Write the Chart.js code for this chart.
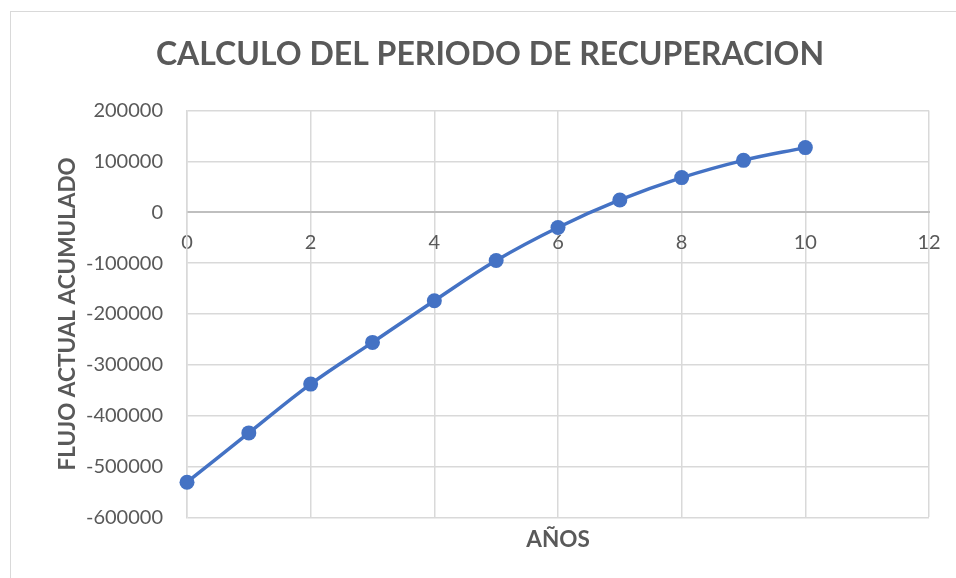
<!DOCTYPE html>
<html>
<head>
<meta charset="utf-8">
<script src="https://cdn.jsdelivr.net/npm/chart.js@4/dist/chart.umd.min.js"></script>
<style>
  html, body { margin: 0; padding: 0; background: #ffffff; }
  #wrap { position: relative; width: 956px; height: 578px; overflow: hidden; }
  #frame { position: absolute; left: 10px; top: 11px; width: 1000px; height: 1000px;
           border-left: 1.5px solid #d9d9d9; border-top: 1.5px solid #d9d9d9; box-sizing: border-box; }
  canvas { position: absolute; left: 0; top: 0; }
</style>
</head>
<body>
<div id="wrap">
  <div id="frame"></div>
  <canvas id="c" width="956" height="578"></canvas>
</div>
<script>
// ---- data ----
const titleText = 'CALCULO DEL PERIODO DE RECUPERACION';
const xTitle = 'AÑOS';
const yTitle = 'FLUJO ACTUAL ACUMULADO';
const years = [0, 1, 2, 3, 4, 5, 6, 7, 8, 9, 10];
const flujoAcumulado = [-531000, -434000, -338000, -256000, -174000, -95000, -30000, 24000, 68000, 102000, 127000];
const xTicks = [0, 2, 4, 6, 8, 10, 12];
const yTicks = [200000, 100000, 0, -100000, -200000, -300000, -400000, -500000, -600000];

const points = years.map((x, i) => ({ x: x, y: flujoAcumulado[i] }));
const FONT = 'Lato';
const GRAY = '#595959';
const GRID = '#d9d9d9';

new Chart(document.getElementById('c'), {
  type: 'line',
  data: {
    datasets: [{
      data: points,
      borderColor: '#4472C4',
      backgroundColor: '#4472C4',
      borderWidth: 3.5,
      pointRadius: 7.5,
      pointHoverRadius: 7.5,
      pointBorderWidth: 0,
      pointBackgroundColor: '#4472C4',
      tension: 0.4,
      clip: false,
      xAxisID: 'x',
      yAxisID: 'y'
    }]
  },
  options: {
    responsive: false,
    animation: false,
    events: [],
    layout: { padding: { left: 24, right: 0, top: 0, bottom: 0 } },
    plugins: {
      legend: { display: false },
      tooltip: { enabled: false },
      title: {
        display: true,
        text: titleText,
        color: GRAY,
        font: { family: FONT, size: 32, weight: 'bold', lineHeight: 1.2 },
        padding: { top: 35.5, bottom: 36.6 }
      }
    },
    scales: {
      x: {
        type: 'linear',
        position: 'bottom',
        min: 0, max: 12,
        afterBuildTicks: (s) => { s.ticks = xTicks.map(v => ({ value: v })); },
        ticks: { display: false },
        grid: { color: GRID, lineWidth: 1.5, drawTicks: false },
        border: { display: false },
        title: {
          display: true,
          text: xTitle,
          color: GRAY,
          font: { family: FONT, size: 22.5, weight: 'bold', lineHeight: 1.2 },
          padding: { top: 0, bottom: 25 }
        },
        afterFit: (s) => { s.height = 60.7; s.paddingLeft = 0; s.paddingRight = 27; }
      },
      x2: {
        type: 'linear',
        position: { y: 0 },
        min: 0, max: 12,
        afterBuildTicks: (s) => { s.ticks = xTicks.map(v => ({ value: v })); },
        ticks: { color: GRAY, font: { family: FONT, size: 20 }, padding: 18, maxRotation: 0, autoSkip: false },
        grid: { display: false, drawTicks: false },
        border: { display: true, color: '#bfbfbf', width: 2 },
        afterFit: (s) => { s.paddingLeft = 0; s.paddingRight = 27; }
      },
      y: {
        type: 'linear',
        position: 'left',
        min: -600000, max: 200000,
        afterBuildTicks: (s) => { s.ticks = yTicks.slice().reverse().map(v => ({ value: v })); },
        ticks: {
          color: GRAY,
          font: { family: FONT, size: 20 },
          padding: 24,
          callback: (v) => String(v)
        },
        grid: {
          color: (ctx) => (ctx.tick && ctx.tick.value === 0) ? '#bfbfbf' : GRID,
          lineWidth: (ctx) => (ctx.tick && ctx.tick.value === 0) ? 2 : 1.5,
          drawTicks: false
        },
        border: { display: true, color: GRID, width: 1.5 },
        title: {
          display: true,
          text: yTitle,
          color: GRAY,
          font: { family: FONT, size: 22.5, weight: 'bold', lineHeight: 1.2 },
          padding: { top: 30, bottom: 0 }
        },
        afterFit: (s) => { s.width = 163; }
      }
    }
  }
});
</script>
</body>
</html>
